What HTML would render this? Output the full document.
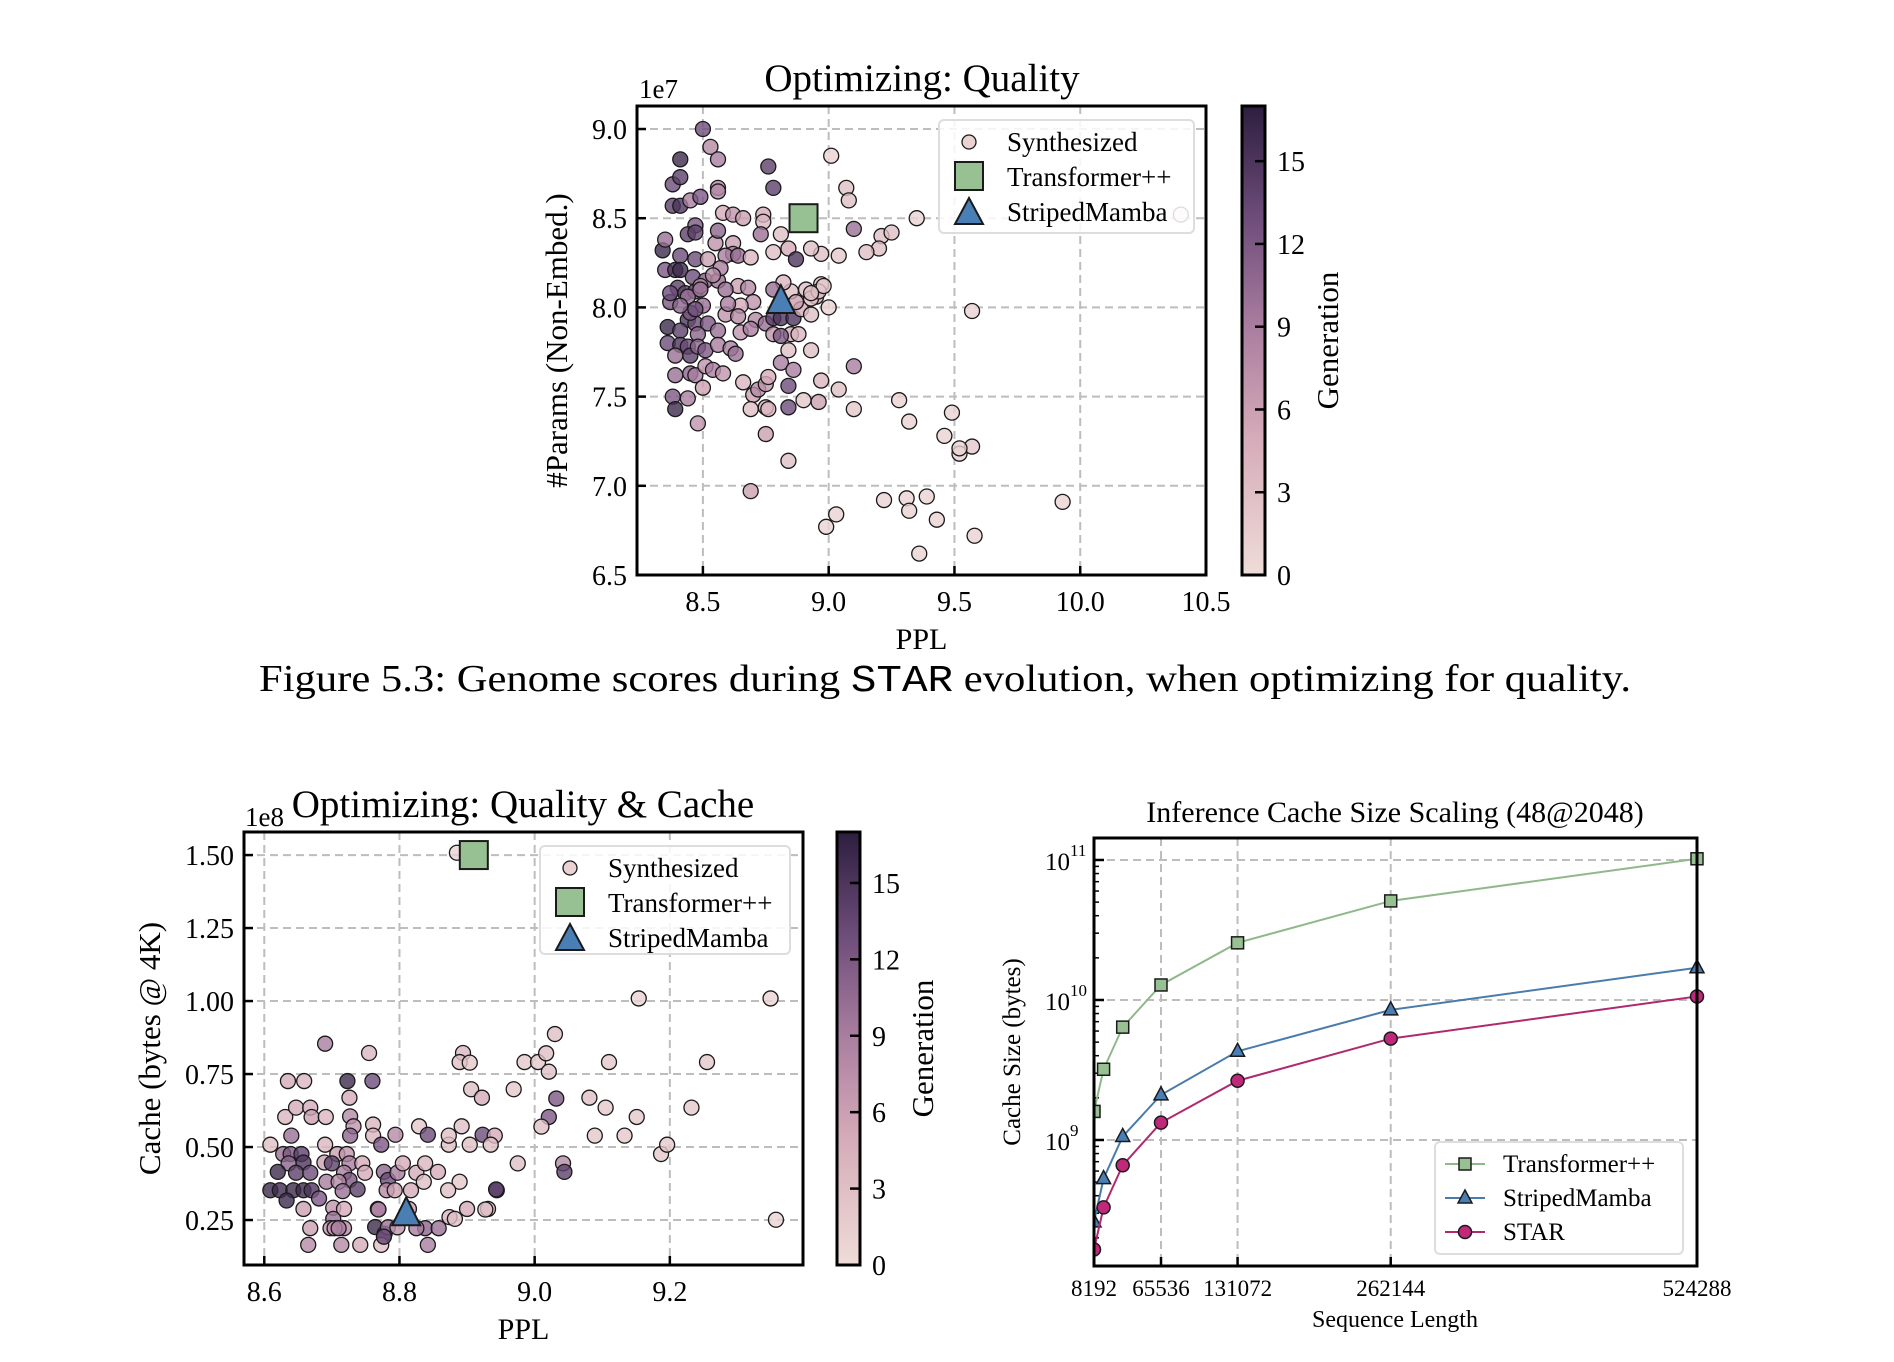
<!DOCTYPE html>
<html><head><meta charset="utf-8"><style>
html,body{margin:0;padding:0;background:#fff;}
svg{display:block;font-family:"Liberation Serif",serif;}
</style></head><body>
<svg id="fig" width="1894" height="1362" viewBox="0 0 1894 1362" xmlns="http://www.w3.org/2000/svg">
<defs>
<linearGradient id="cbgrad" x1="0" y1="1" x2="0" y2="0">
<stop offset="0" stop-color="#efdcd8"/><stop offset="0.3" stop-color="#d4aab8"/><stop offset="0.53" stop-color="#a97d9f"/><stop offset="0.76" stop-color="#6e4d7a"/><stop offset="1" stop-color="#2d1e3f"/>
</linearGradient>
</defs>
<text x="945" y="691" font-size="38" text-anchor="middle" textLength="1372" lengthAdjust="spacingAndGlyphs">Figure 5.3: Genome scores during <tspan font-family="Liberation Mono, monospace">STAR</tspan> evolution, when optimizing for quality.</text>
</svg>
<script>
// ---------- Plot 1 data: [PPL, params(1e7), generation]
const q_points = [
[8.50,9.00,13],[8.53,8.90,8],[8.56,8.83,9],[8.41,8.83,16],[8.76,8.79,14],[9.01,8.85,1],[8.78,8.67,14],[9.07,8.67,3],[9.08,8.60,3],[8.56,8.67,8],[8.56,8.65,8],[8.38,8.69,13],[8.41,8.73,14],[8.38,8.57,14],[8.41,8.57,15],[8.45,8.60,9],[8.49,8.62,12],[8.58,8.53,5],[8.62,8.52,7],[8.74,8.52,5],[8.74,8.48,4],[8.81,8.41,3],[9.35,8.50,1],[9.10,8.44,10],[9.21,8.40,3],[9.25,8.42,3],[9.20,8.33,3],[9.15,8.31,3],[9.04,8.29,2],[8.97,8.30,3],[8.93,8.33,3],[8.84,8.33,5],[8.87,8.27,15],[8.78,8.31,3],[8.73,8.41,10],[8.66,8.50,6],
[8.34,8.32,16],[8.35,8.38,10],[8.41,8.29,13],[8.47,8.27,13],[8.55,8.36,7],[8.56,8.43,11],[8.47,8.46,12],[8.44,8.41,14],[8.47,8.42,14],[8.62,8.36,6],[8.62,8.30,9],[8.59,8.29,9],[8.64,8.29,10],[8.69,8.28,4],[8.52,8.27,6],[8.35,8.21,12],[8.39,8.21,15],[8.41,8.21,16],[8.46,8.17,13],[8.51,8.15,11],[8.56,8.15,10],[8.57,8.22,9],[8.40,8.11,14],[8.43,8.08,14],[8.47,8.09,13],[8.37,8.03,12],[8.44,8.06,10],[8.49,8.12,8],[8.64,8.12,6],[8.68,8.11,8],[8.70,8.03,7],[8.65,8.01,5],[8.59,7.96,7],[8.64,7.95,8],
[8.36,7.89,16],[8.44,7.93,15],[8.41,7.87,14],[8.47,7.91,13],[8.52,7.91,12],[8.48,7.85,11],[8.56,7.87,10],[8.65,7.86,7],[8.71,7.93,8],[8.69,7.88,9],[8.75,7.91,10],[8.78,7.94,14],[8.81,7.94,15],[8.86,7.94,15],[8.89,7.99,5],[8.85,7.85,5],[8.88,7.85,4],[8.78,7.85,7],[8.81,7.84,12],[8.36,7.80,13],[8.41,7.79,15],[8.44,7.78,13],[8.45,7.73,14],[8.48,7.78,11],[8.51,7.76,12],[8.56,7.79,9],[8.61,7.77,9],[8.63,7.74,10],[8.39,7.73,10],
[8.39,7.62,10],[8.45,7.63,11],[8.47,7.62,9],[8.51,7.67,7],[8.54,7.65,9],[8.58,7.63,7],[8.38,7.50,12],[8.44,7.49,9],[8.39,7.43,16],[8.48,7.35,7],[8.50,7.55,6],[8.66,7.58,4],[8.70,7.51,6],[8.72,7.54,8],[8.75,7.57,7],[8.76,7.61,5],[8.84,7.56,13],[8.81,7.69,9],[8.86,7.65,9],[8.84,7.76,3],[8.93,7.76,3],[8.84,7.44,13],[8.69,7.43,3],[8.75,7.44,4],[8.76,7.43,4],[8.75,7.29,6],[8.90,7.48,2],[8.96,7.47,6],[8.97,7.59,4],[9.04,7.54,3],[9.10,7.43,2],[9.10,7.67,9],[9.28,7.48,1],[9.32,7.36,1],[9.49,7.41,1],[9.46,7.28,1],[9.52,7.18,1],[9.57,7.22,2],[9.52,7.21,1],[9.57,7.98,1],[8.84,7.14,3],[8.69,6.97,6],[9.22,6.92,1],[9.31,6.93,1],[9.39,6.94,1],[9.32,6.86,1],[9.43,6.81,1],[9.03,6.84,1],[8.99,6.77,1],[9.36,6.62,1],[9.58,6.72,1],[9.93,6.91,1],[10.40,8.52,0],
[8.91,8.10,3],[8.95,8.06,5],[8.97,8.13,3],[9.00,8.00,1],[8.93,7.96,3],[8.93,8.05,3],[8.85,8.09,3],[8.82,8.14,4],[8.78,8.10,10],[8.87,8.03,6],[8.96,8.09,3],[8.98,8.12,2],[8.54,8.18,8],[8.49,8.10,10],[8.59,8.10,10],[8.50,8.01,10],[8.45,7.97,12],[8.60,8.02,9],[8.41,8.01,11],[8.47,7.99,13],[8.93,8.08,3],[8.37,8.08,13]
];
const q_transformer = [8.90, 8.50];
const q_mamba = [8.81, 8.03];
const q_xticks = [8.5, 9.0, 9.5, 10.0, 10.5];
const q_xtickLabels = ["8.5","9.0","9.5","10.0","10.5"];
const q_yticks = [6.5, 7.0, 7.5, 8.0, 8.5, 9.0];
const q_ytickLabels = ["6.5","7.0","7.5","8.0","8.5","9.0"];

// ---------- Plot 2 data: [PPL, cache(1e8), generation]
const c_points = [
[8.885,1.508,1],[9.154,1.009,1],[9.349,1.009,1],[8.690,0.854,9],[8.755,0.822,4],[9.030,0.887,3],[8.894,0.822,4],[8.889,0.791,3],[8.904,0.789,2],[8.985,0.791,2],[9.005,0.791,2],[9.017,0.821,3],[9.021,0.758,3],[9.110,0.791,2],[9.255,0.791,2],[8.635,0.726,5],[8.659,0.726,4],[8.723,0.726,16],[8.760,0.726,13],[8.726,0.669,5],[8.906,0.698,3],[8.922,0.669,5],[8.969,0.698,2],[9.032,0.666,12],[9.081,0.669,3],[9.105,0.635,2],[9.232,0.635,2],[9.151,0.603,2],[9.021,0.603,12],[9.010,0.570,3],
[8.631,0.603,4],[8.647,0.635,5],[8.668,0.635,5],[8.670,0.603,6],[8.691,0.603,4],[8.727,0.605,8],[8.732,0.571,7],[8.727,0.539,11],[8.761,0.577,4],[8.761,0.539,4],[8.640,0.539,10],[8.609,0.508,3],[8.690,0.508,4],[8.773,0.508,12],[8.794,0.542,8],[8.829,0.571,2],[8.842,0.542,13],[8.873,0.508,3],[8.873,0.539,3],[8.892,0.571,3],[8.904,0.508,3],[8.923,0.542,13],[8.941,0.539,5],[8.935,0.508,3],[9.089,0.539,2],[9.133,0.539,2],[9.187,0.476,2],[9.196,0.508,2],[8.975,0.444,3],[9.042,0.444,8],[9.044,0.415,14],
[8.628,0.476,10],[8.639,0.476,12],[8.655,0.476,14],[8.658,0.447,15],[8.636,0.444,11],[8.620,0.415,16],[8.647,0.412,14],[8.668,0.412,13],[8.689,0.447,6],[8.708,0.476,6],[8.700,0.444,14],[8.722,0.476,7],[8.726,0.444,9],[8.745,0.444,5],[8.749,0.412,5],[8.718,0.412,9],[8.726,0.387,12],[8.692,0.381,9],[8.710,0.381,8],[8.738,0.355,14],[8.716,0.349,10],[8.777,0.415,11],[8.783,0.387,13],[8.797,0.412,9],[8.805,0.444,5],[8.825,0.412,5],[8.838,0.444,4],[8.857,0.415,5],[8.836,0.381,3],[8.889,0.381,2],[8.872,0.352,3],[8.817,0.352,5],[8.781,0.352,8],[8.793,0.352,6],[8.944,0.352,15],[8.943,0.355,14],
[8.609,0.352,16],[8.623,0.352,16],[8.643,0.352,16],[8.658,0.352,16],[8.670,0.352,15],[8.681,0.324,12],[8.633,0.317,16],[8.658,0.288,6],[8.702,0.292,7],[8.718,0.288,5],[8.768,0.288,8],[8.769,0.286,9],[8.814,0.288,6],[8.874,0.260,4],[8.882,0.254,3],[8.900,0.288,5],[8.931,0.288,4],[8.927,0.286,3],[8.702,0.254,10],[8.718,0.222,8],[8.698,0.222,7],[8.764,0.226,16],[8.778,0.203,15],[8.783,0.225,10],[8.797,0.225,7],[8.668,0.222,6],[8.838,0.222,11],[8.858,0.222,10],[8.825,0.222,9],[8.665,0.165,8],[8.714,0.165,8],[8.742,0.165,5],[8.773,0.165,3],[8.777,0.193,13],[8.842,0.165,9],[9.357,0.251,1],[8.704,0.222,7],[8.710,0.222,9]
];
const c_transformer = [8.91, 1.50];
const c_mamba = [8.81, 0.27];
const c_xticks = [8.6, 8.8, 9.0, 9.2];
const c_xtickLabels = ["8.6","8.8","9.0","9.2"];
const c_yticks = [0.25, 0.50, 0.75, 1.00, 1.25, 1.50];
const c_ytickLabels = ["0.25","0.50","0.75","1.00","1.25","1.50"];

// ---------- Plot 3 data
const seqLens = [8192, 16384, 32768, 65536, 131072, 262144, 524288];
const transformerCache = [1.6e9, 3.2e9, 6.4e9, 1.28e10, 2.56e10, 5.1e10, 1.02e11];
const mambaCache = [2.6e8, 5.3e8, 1.06e9, 2.1e9, 4.3e9, 8.5e9, 1.7e10];
const starCache = [1.65e8, 3.3e8, 6.6e8, 1.33e9, 2.65e9, 5.3e9, 1.06e10];
const s_xticks = [8192, 65536, 131072, 262144, 524288];
const s_xtickLabels = ["8192","65536","131072","262144","524288"];
const s_yticksExp = [9, 10, 11];

const cbTicks = [0, 3, 6, 9, 12, 15];
const cbMax = 17;

const NS = "http://www.w3.org/2000/svg";
const svg = document.getElementById('fig');
function mk(tag, attrs, parent){ const e=document.createElementNS(NS,tag); for(const k in attrs) e.setAttribute(k,attrs[k]); (parent||svg).appendChild(e); return e; }
function txt(s, attrs, parent){ const e=mk('text',attrs,parent); e.textContent=s; return e; }

const stops=[[0,[239,220,216]],[0.3,[212,170,184]],[0.53,[169,125,159]],[0.76,[110,77,122]],[1,[45,30,63]]];
function cmap(g){ let t=Math.max(0,Math.min(1,g/cbMax)); for(let i=1;i<stops.length;i++){ if(t<=stops[i][0]){ const a=stops[i-1],b=stops[i]; const u=(t-a[0])/(b[0]-a[0]); const c=a[1].map((v,j)=>Math.round(v+(b[1][j]-v)*u)); return `rgb(${c[0]},${c[1]},${c[2]})`; } } return 'rgb(45,30,63)'; }

function scatterPlot(o){
  const g=mk('g',{});
  
  
  const X=v=>o.L+(v-o.x0)/(o.x1-o.x0)*(o.R-o.L);
  const Y=v=>o.B-(v-o.y0)/(o.y1-o.y0)*(o.B-o.T);
  o.xt.forEach((v,i)=>{ const x=X(v); if(x<o.L-1||x>o.R+1) return;
    mk('line',{x1:x,y1:o.T,x2:x,y2:o.B,stroke:'#bdbdbd','stroke-width':2,'stroke-dasharray':'8,5'},g);
    mk('line',{x1:x,y1:o.B,x2:x,y2:o.B-9,stroke:'#000','stroke-width':2.5},g);
    const t=txt(o.xl[i],{x:x,y:o.B+36,'font-size':o.fs,'text-anchor':'middle'},g);
     
  });
  o.yt.forEach((v,i)=>{ const y=Y(v);
    mk('line',{x1:o.L,y1:y,x2:o.R,y2:y,stroke:'#bdbdbd','stroke-width':2,'stroke-dasharray':'8,5'},g);
    mk('line',{x1:o.L,y1:y,x2:o.L+9,y2:y,stroke:'#000','stroke-width':2.5},g);
    const t=txt(o.yl[i],{x:o.L-10,y:y+10,'font-size':o.fs,'text-anchor':'end'},g);
     
  });
  o.pts.forEach(p=>{
    const c=mk('circle',{cx:X(p[0]),cy:Y(p[1]),r:7.5,fill:cmap(p[2]),'fill-opacity':0.8,stroke:'#1a1a1a','stroke-width':1.3},g);
     
  });
  const tx=X(o.tr[0]), ty=Y(o.tr[1]);
  const sq=mk('rect',{x:tx-14,y:ty-14,width:28,height:28,fill:'#98c193',stroke:'#1a1a1a','stroke-width':2},g);
   
  const mx=X(o.sm[0]), my=Y(o.sm[1]);
  const tri=mk('polygon',{points:`${mx},${my-17} ${mx-14},${my+11} ${mx+14},${my+11}`,fill:'#4a7fb5',stroke:'#1a1a1a','stroke-width':2},g);
   
  mk('rect',{x:o.L,y:o.T,width:o.R-o.L,height:o.B-o.T,fill:'none',stroke:'#000','stroke-width':3},g);
  const lg=mk('g',{},g);
   
  const lx=o.leg[0], ly=o.leg[1];
  mk('rect',{x:lx,y:ly,width:o.leg[2],height:o.leg[3],rx:5,fill:'#fff','fill-opacity':0.85,stroke:'#ddd','stroke-width':2},lg);
  mk('circle',{cx:lx+30,cy:ly+22,r:7,fill:cmap(1),stroke:'#1a1a1a','stroke-width':1.3},lg);
  mk('rect',{x:lx+16,y:ly+42,width:28,height:28,fill:'#98c193',stroke:'#1a1a1a','stroke-width':2},lg);
  mk('polygon',{points:`${lx+30},${ly+78} ${lx+16},${ly+104} ${lx+44},${ly+104}`,fill:'#4a7fb5',stroke:'#1a1a1a','stroke-width':2},lg);
  ['Synthesized','Transformer++','StripedMamba'].forEach((s,i)=>{
    const t=txt(s,{x:lx+68,y:ly+31+i*35,'font-size':27},lg);
     
  });
  let t=txt(o.title,{x:o.tX,y:o.tY,'font-size':39,'text-anchor':'middle'},g);
   
  t=txt(o.exp,{x:o.eX,y:o.eY,'font-size':27},g);
   
  t=txt('PPL',{x:(o.L+o.R)/2,y:o.B+74,'font-size':30,'text-anchor':'middle'},g);
   
  t=txt(o.ylabel,{x:0,y:0,'font-size':31,'text-anchor':'middle',transform:`translate(${o.ylX},${(o.T+o.B)/2}) rotate(-90)`},g);
   
  const cb=mk('g',{},g);
   
  mk('rect',{x:o.cbL,y:o.T,width:23,height:o.B-o.T,fill:'url(#cbgrad)',stroke:'#000','stroke-width':3},cb);
  cbTicks.forEach(v=>{ const y=o.B-v/cbMax*(o.B-o.T);
    mk('line',{x1:o.cbL+13,y1:y,x2:o.cbL+23,y2:y,stroke:'#000','stroke-width':2.5},cb);
    txt(String(v),{x:o.cbL+35,y:y+10,'font-size':o.fs},cb);
  });
  t=txt('Generation',{x:0,y:0,'font-size':31,'text-anchor':'middle',transform:`translate(${o.cbL+96},${(o.T+o.B)/2}) rotate(-90)`},cb);
   
}

scatterPlot({name:'quality-scatter',L:637,R:1206,T:106,B:575,x0:8.238,x1:10.5,y0:6.5,y1:9.129,
  xt:q_xticks,xl:q_xtickLabels,yt:q_yticks,yl:q_ytickLabels,pts:q_points,tr:q_transformer,sm:q_mamba,
  leg:[939,120,255,113],title:'Optimizing: Quality',tX:922,tY:91,exp:'1e7',eX:639,eY:98,
  ylabel:'#Params (Non-Embed.)',ylX:567,cbL:1242,fs:28});
scatterPlot({name:'quality-cache-scatter',L:244,R:803,T:832,B:1265,x0:8.570,x1:9.397,y0:0.096,y1:1.579,
  xt:c_xticks,xl:c_xtickLabels,yt:c_yticks,yl:c_ytickLabels,pts:c_points,tr:c_transformer,sm:c_mamba,
  leg:[540,846,250,108],title:'Optimizing: Quality & Cache',tX:523,tY:817,exp:'1e8',eX:245,eY:826,
  ylabel:'Cache (bytes @ 4K)',ylX:160,cbL:837,fs:28});

(function(){
  const L=1094,R=1697,T=838,B=1266, x0=8192, x1=524288, ly0=8.1, ly1=11.157;
  const X=v=>L+(v-x0)/(x1-x0)*(R-L);
  const Y=v=>B-(Math.log10(v)-ly0)/(ly1-ly0)*(B-T);
  const g=mk('g',{});
  
  
  s_xticks.forEach((v,i)=>{ const x=X(v);
    mk('line',{x1:x,y1:T,x2:x,y2:B,stroke:'#bdbdbd','stroke-width':2,'stroke-dasharray':'8,5'},g);
    mk('line',{x1:x,y1:B,x2:x,y2:B-9,stroke:'#000','stroke-width':2.5},g);
    const t=txt(s_xtickLabels[i],{x:x,y:B+30,'font-size':23,'text-anchor':'middle'},g);
     
  });
  s_yticksExp.forEach(e=>{ const y=Y(Math.pow(10,e));
    mk('line',{x1:L,y1:y,x2:R,y2:y,stroke:'#bdbdbd','stroke-width':2,'stroke-dasharray':'8,5'},g);
    mk('line',{x1:L,y1:y,x2:L+10,y2:y,stroke:'#000','stroke-width':2.5},g);
    const t=txt('10',{x:L-24,y:y+10,'font-size':25,'text-anchor':'end'},g);
     
    txt(String(e),{x:L-24,y:y-4,'font-size':17},g);
  });
  for(let e=8;e<=11;e++) for(let m=2;m<=9;m++){ const v=m*Math.pow(10,e); const lv=Math.log10(v); if(lv<ly0||lv>ly1) continue;
    const y=Y(v); mk('line',{x1:L,y1:y,x2:L+5,y2:y,stroke:'#000','stroke-width':1.5},g); }
  const series=[[transformerCache,'#8fb98a','#98c193','sq','transformer-line'],[mambaCache,'#4a7bab','#4a7fb5','tri','stripedmamba-line'],[starCache,'#b0286e','#c0287a','circ','star-line']];
  const clip=mk('clipPath',{id:'c3'},g); mk('rect',{x:L,y:T-10,width:R-L+10,height:B-T+10},clip);
  const sg=mk('g',{'clip-path':'url(#c3)'},g);
  function marker(kind,x,y,fill,par){
    if(kind==='sq') return mk('rect',{x:x-6,y:y-6,width:12,height:12,fill:fill,stroke:'#1a1a1a','stroke-width':1.5},par);
    if(kind==='tri') return mk('polygon',{points:`${x},${y-8} ${x-7},${y+5} ${x+7},${y+5}`,fill:fill,stroke:'#1a1a1a','stroke-width':1.5},par);
    return mk('circle',{cx:x,cy:y,r:6.5,fill:fill,stroke:'#1a1a1a','stroke-width':1.5},par);
  }
  series.forEach(s=>{
    const d=seqLens.map((v,i)=>(i?'L':'M')+X(v)+','+Y(s[0][i])).join(' ');
    const p=mk('path',{d:d,fill:'none',stroke:s[1],'stroke-width':2},sg);
     
    seqLens.forEach((v,i)=>{ const m=marker(s[3],X(v),Y(s[0][i]),s[2],sg);
        });
  });
  mk('rect',{x:L,y:T,width:R-L,height:B-T,fill:'none',stroke:'#000','stroke-width':3},g);
  const lg=mk('g',{},g);
   
  mk('rect',{x:1435,y:1142,width:248,height:112,rx:5,fill:'#fff','fill-opacity':0.85,stroke:'#ddd','stroke-width':2},lg);
  ['Transformer++','StripedMamba','STAR'].forEach((n,i)=>{ const y=1164+i*34;
    mk('line',{x1:1445,y1:y,x2:1485,y2:y,stroke:series[i][1],'stroke-width':2},lg);
    marker(series[i][3],1465,y,series[i][2],lg);
    const t=txt(n,{x:1503,y:y+8,'font-size':25},lg);
     
  });
  let t=txt('Inference Cache Size Scaling (48@2048)',{x:1395,y:822,'font-size':30,'text-anchor':'middle'},g);
   
  t=txt('Sequence Length',{x:1395,y:1327,'font-size':24,'text-anchor':'middle'},g);
   
  t=txt('Cache Size (bytes)',{x:0,y:0,'font-size':25,'text-anchor':'middle',transform:`translate(1020,${(T+B)/2}) rotate(-90)`},g);
   
})();
</script>
</body></html>
